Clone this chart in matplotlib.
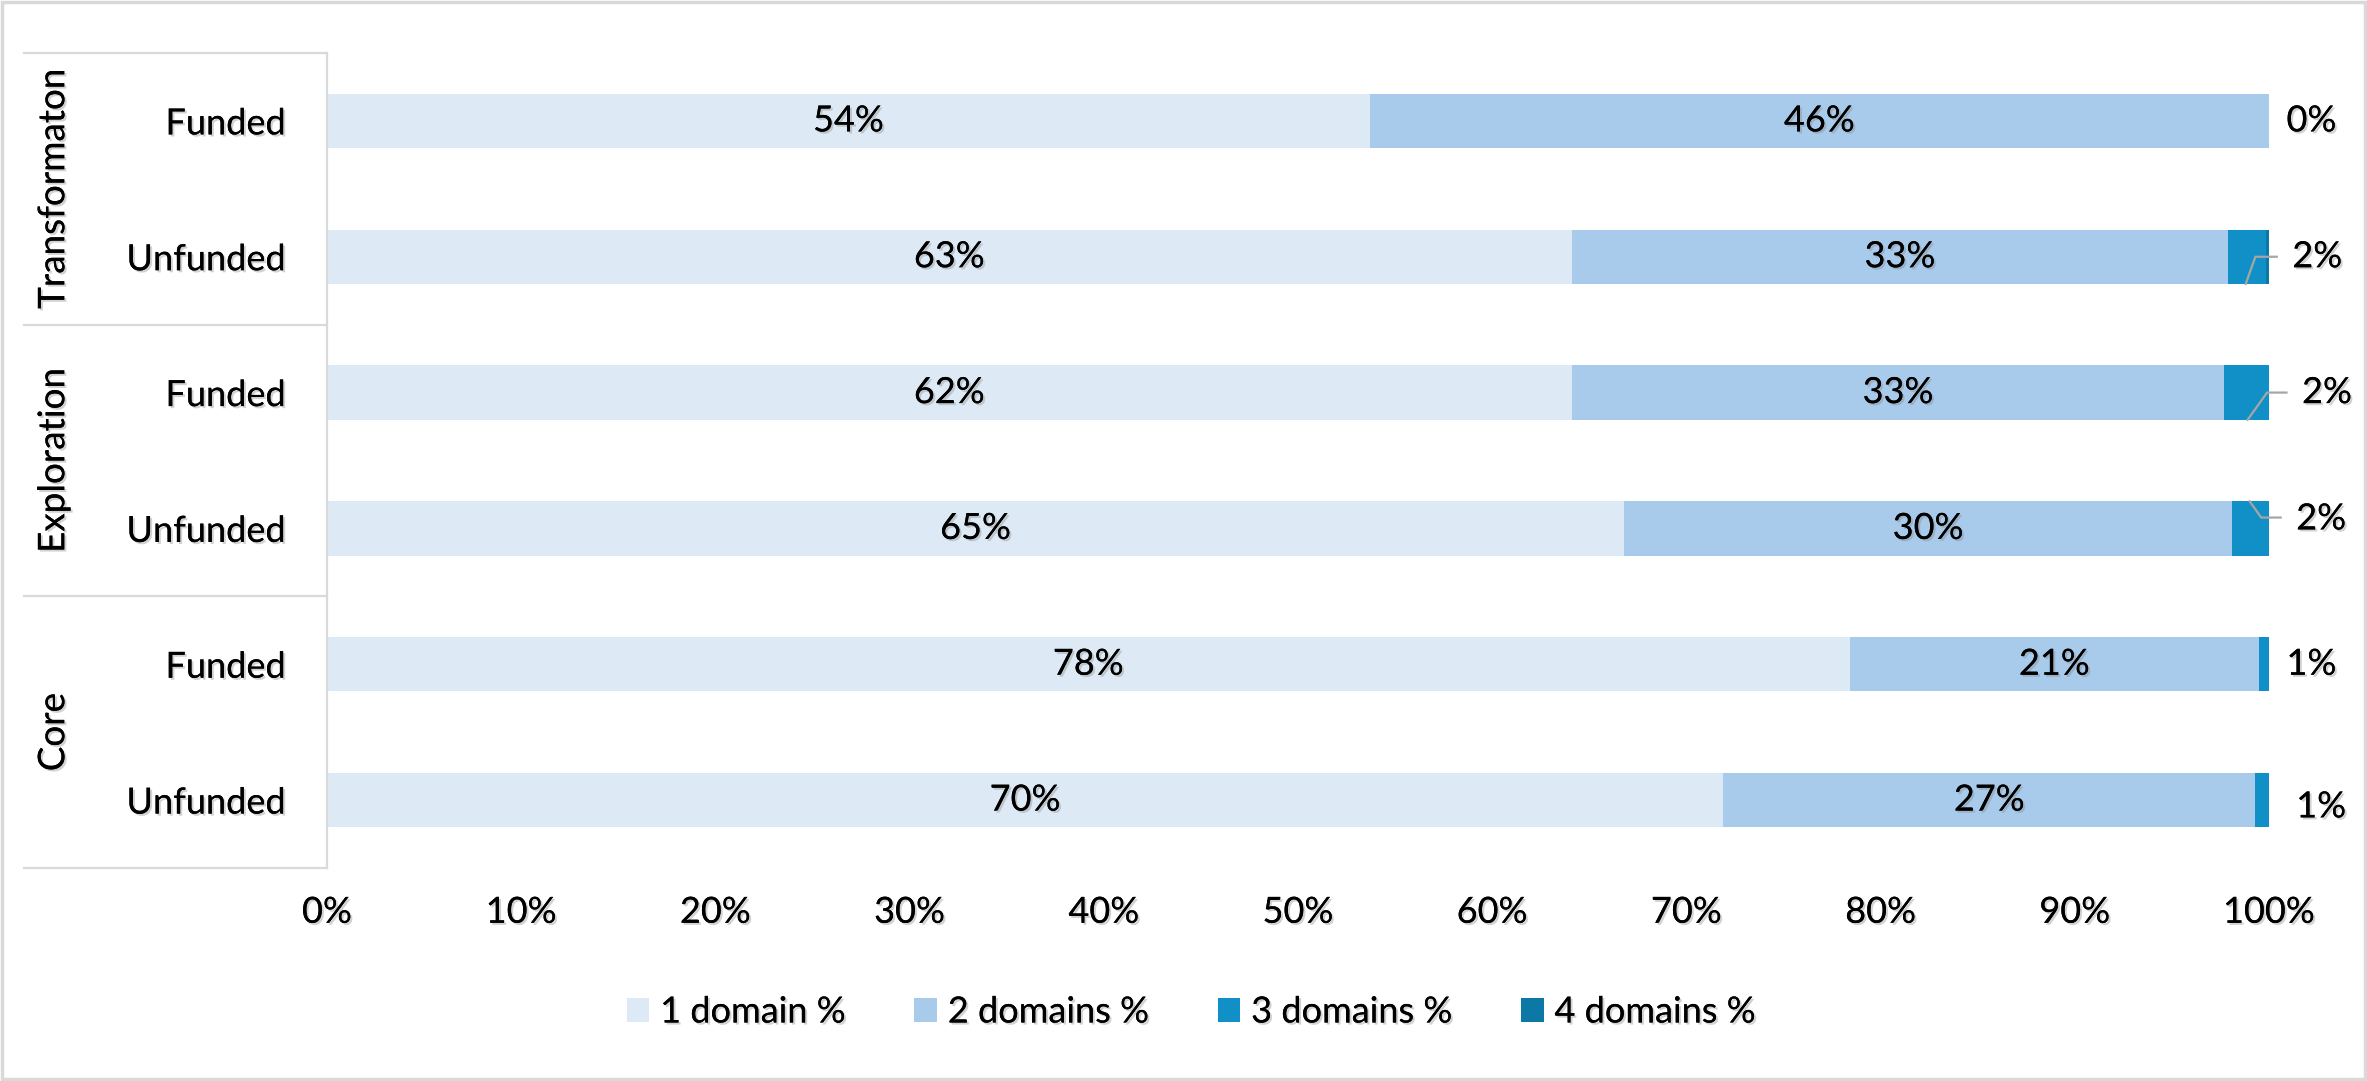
import matplotlib.pyplot as plt
import matplotlib.patheffects as pe
from matplotlib.patches import Rectangle
from matplotlib.transforms import blended_transform_factory
import numpy as np

plt.rcParams['font.family'] = ['Lato', 'DejaVu Sans']

# Data (top to bottom), bar shares in %
groups = ["Transformaton", "Exploration", "Core"]
subcats = ["Funded", "Unfunded", "Funded", "Unfunded", "Funded", "Unfunded"]
one_domain = [53.7, 64.1, 64.1, 66.8, 78.4, 71.9]
two_domains = [46.3, 33.8, 33.6, 31.3, 21.1, 27.4]
three_domains = [0.0, 1.95, 2.3, 1.9, 0.5, 0.7]
four_domains = [0.0, 0.15, 0.0, 0.0, 0.0, 0.0]
# data labels as printed on the chart
one_labels = [54, 63, 62, 65, 78, 70]
two_labels = [46, 33, 33, 30, 21, 27]
three_labels = [0, 2, 2, 2, 1, 1]
series_names = ["1 domain %", "2 domains %", "3 domains %", "4 domains %"]
colors = ["#DDEAF6", "#A8CAEB", "#1090C6", "#0B78A6"]

shares = np.array([one_domain, two_domains, three_domains, four_domains])
inner_labels = [one_labels, two_labels]

shadow = [pe.withSimplePatchShadow(offset=(1.5, -1.5), shadow_rgbFace='#808080', alpha=0.35), pe.Normal()]
FS = 26

fig = plt.figure(figsize=(23.67, 10.81), dpi=100)
ax = fig.add_axes([0.13815, 0.19704, 0.82045, 0.75393])

y = np.arange(len(subcats))
left = np.zeros(len(subcats))
for i, name in enumerate(series_names):
    ax.barh(y, shares[i], left=left, height=0.4, color=colors[i], label=name)
    if i < 2:
        for j in range(len(subcats)):
            ax.text(left[j] + shares[i][j] / 2, y[j], f"{inner_labels[i][j]}%", ha='center', va='center',
                    fontsize=FS, color='black', path_effects=shadow)
    left += shares[i]

# outside labels for 3 domains, some with leader lines
lbl_x = [100.9, 101.2, 101.7, 101.4, 100.9, 101.4]
lbl_dy = [0, 0, 0, -0.07, 0, 0.05]
leaders = {1: ([98.8, 99.3, 100.4], [0.2, 0, 0]),
           2: ([98.9, 99.9, 100.9], [0.2, 0, 0]),
           3: ([99.0, 99.6, 100.6], [-0.2, -0.08, -0.08])}
for j in range(len(subcats)):
    ax.text(lbl_x[j], y[j] + lbl_dy[j], f"{three_labels[j]}%", ha='left', va='center',
            fontsize=FS, color='black', path_effects=shadow, clip_on=False)
    if j in leaders:
        lx, ly = leaders[j]
        ax.plot(lx, [y[j] + d for d in ly], color='#A6A6A6', lw=1.6, clip_on=False)

ax.set_xlim(0, 100)
ax.set_ylim(len(subcats) - 0.5, -0.5)
ax.set_xticks(np.arange(0, 101, 10))
ax.set_xticklabels([f"{t}%" for t in range(0, 101, 10)])
ax.set_yticks(y)
ax.set_yticklabels(subcats)
ax.tick_params(axis='x', length=0, pad=20, labelsize=FS)
ax.tick_params(axis='y', length=0, pad=30, labelsize=FS)
for lab in ax.get_xticklabels() + ax.get_yticklabels():
    lab.set_path_effects(shadow)
for s in ['top', 'right', 'bottom']:
    ax.spines[s].set_visible(False)
ax.spines['left'].set_color('#D9D9D9')
ax.spines['left'].set_linewidth(1.6)

# grouped category axis
trans = blended_transform_factory(ax.transAxes, ax.transData)
for k in range(len(groups) + 1):
    yb = -0.5 + 2 * k
    ax.plot([-0.1561, 0], [yb, yb], transform=trans, color='#D9D9D9', lw=1.6, clip_on=False)
for k, g in enumerate(groups):
    ax.text(-0.1407, 0.5 + 2 * k, g, transform=trans, rotation=90, ha='center', va='center',
            fontsize=26.5, path_effects=shadow, clip_on=False)

leg = fig.legend(loc='center', bbox_to_anchor=(1191 / 2367, 1 - 1012 / 1081), ncol=4, frameon=False,
                 fontsize=FS, handlelength=0.63, handleheight=0.63, handletextpad=0.3, columnspacing=1.9)
for t in leg.get_texts():
    t.set_path_effects(shadow)

fig.patches.append(Rectangle((0.001, 0.002), 0.998, 0.996, transform=fig.transFigure, fill=False,
                             edgecolor='#D9D9D9', lw=2.5))

fig.savefig("out.png", dpi=100, facecolor='white')
